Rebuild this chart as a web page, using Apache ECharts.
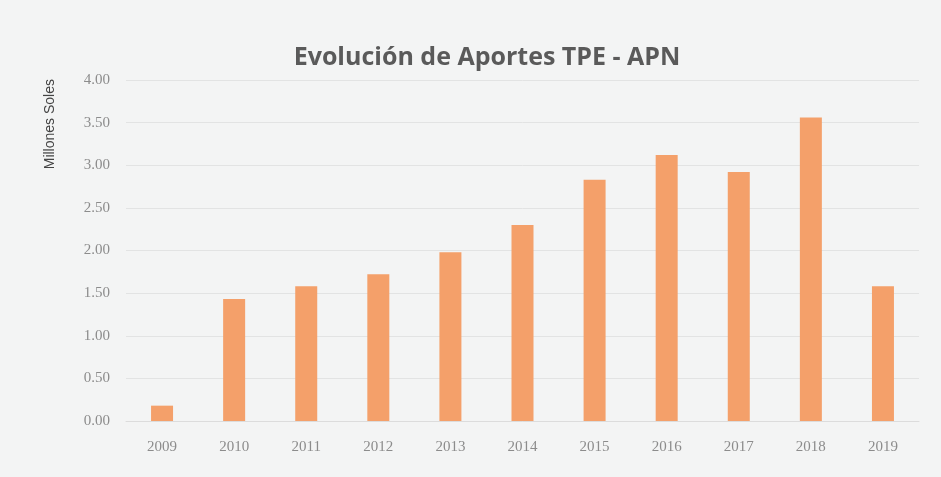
<!DOCTYPE html>
<html>
<head>
<meta charset="utf-8">
<script src="https://cdn.jsdelivr.net/npm/echarts@6/dist/echarts.min.js"></script>
<style>
  html, body { margin: 0; padding: 0; background: #f3f4f4; }
  #main { width: 941px; height: 477px; }
</style>
</head>
<body>
<div id="main"></div>
<script>
// datos
var years = ['2009','2010','2011','2012','2013','2014','2015','2016','2017','2018','2019'];
var aportes = [0.18, 1.43, 1.58, 1.72, 1.98, 2.30, 2.83, 3.12, 2.92, 3.56, 1.58];
var yTicks = [0, 0.5, 1, 1.5, 2, 2.5, 3, 3.5, 4];

var chart = echarts.init(document.getElementById('main'));

var option = {
    backgroundColor: '#f3f4f4',
    title: {
        text: 'Evolución de Aportes TPE - APN',
        left: 482,
        top: 40,
        textAlign: 'center',
        textStyle: {
            fontFamily: 'Open Sans',
            fontSize: 25,
            fontWeight: 'bold',
            color: '#5a5a5a'
        }
    },
    graphic: [{
        type: 'text',
        left: 43,
        top: 79,
        rotation: Math.PI / 2,
        style: {
            text: 'Millones Soles',
            fontFamily: 'Liberation Sans Narrow, Liberation Sans',
            fontSize: 14,
            fill: '#444'
        }
    }],
    grid: {
        left: 126,
        right: 22,
        top: 80,
        bottom: 56
    },
    xAxis: {
        type: 'category',
        data: years,
        axisLine: { show: true, lineStyle: { color: '#dcdcdc' } },
        axisTick: { show: false },
        axisLabel: {
            color: '#8c8c8c',
            fontFamily: 'Liberation Serif',
            fontSize: 15,
            margin: 19
        }
    },
    yAxis: {
        type: 'value',
        min: yTicks[0],
        max: yTicks[yTicks.length - 1],
        interval: 0.5,
        axisLine: { show: false },
        axisTick: { show: false },
        splitLine: { lineStyle: { color: '#e2e3e3' } },
        axisLabel: {
            color: '#8c8c8c',
            fontFamily: 'Liberation Serif',
            fontSize: 15,
            margin: 16,
            formatter: function (v) { return v.toFixed(2); }
        }
    },
    series: [{
        name: 'Aportes',
        type: 'bar',
        data: aportes,
        barWidth: 22,
        itemStyle: { color: '#f4a06a' }
    }]
};

chart.setOption(option);
</script>
</body>
</html>
